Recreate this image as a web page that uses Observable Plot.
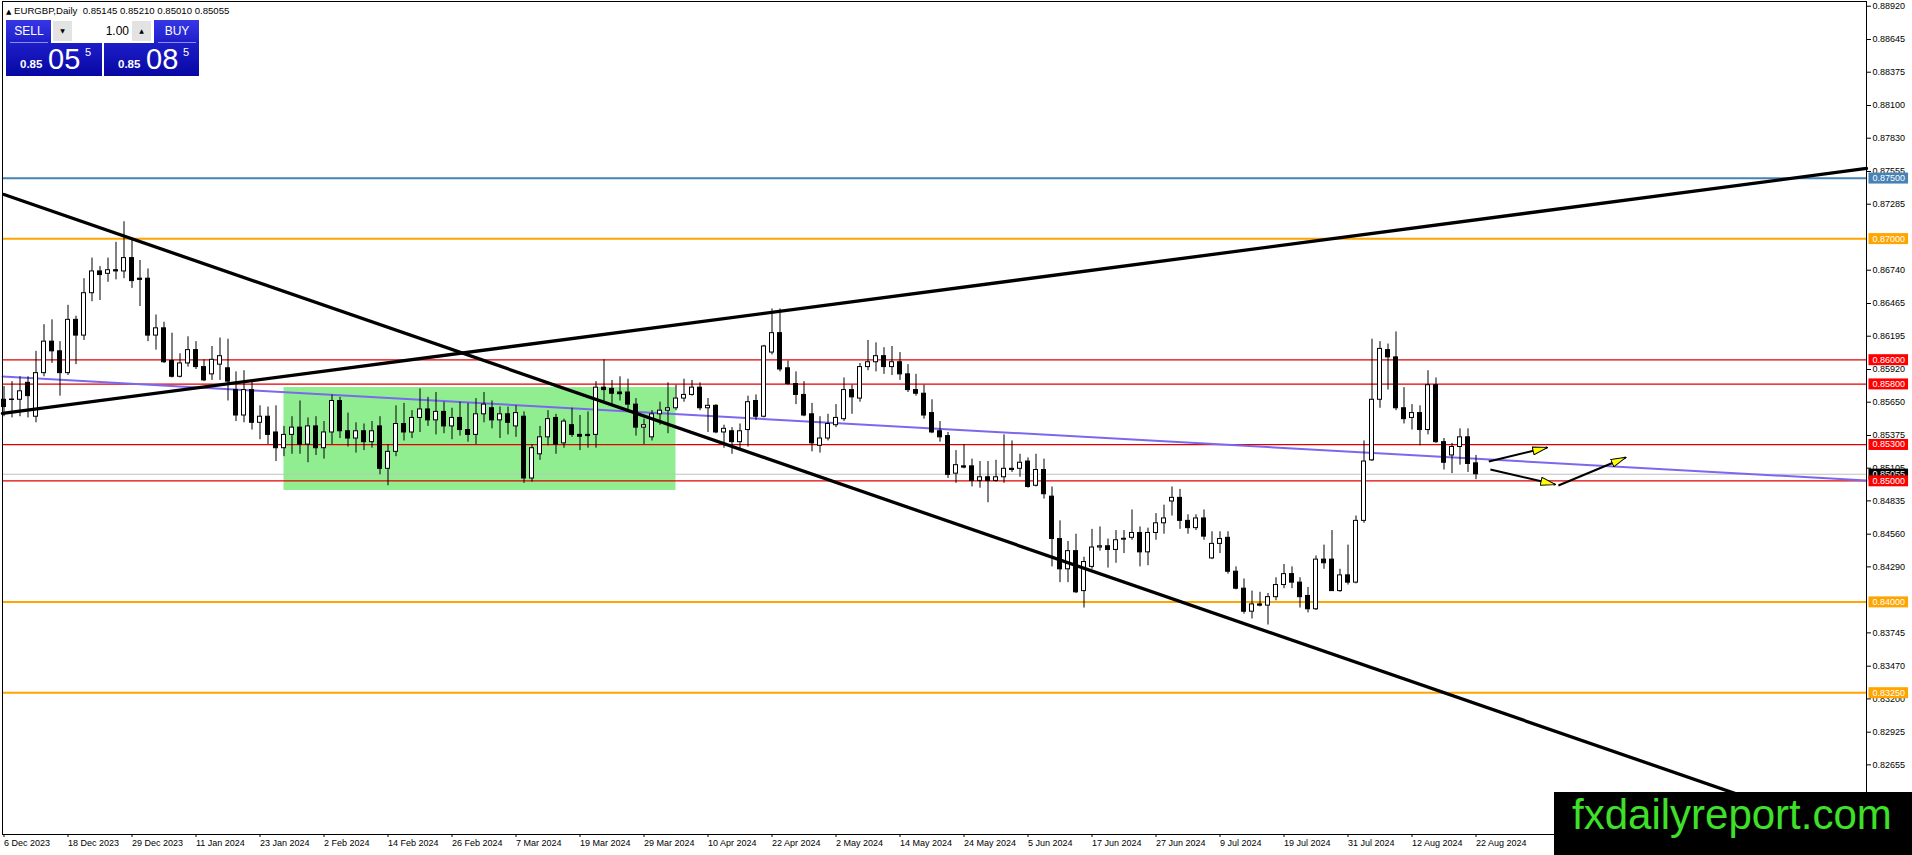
<!DOCTYPE html>
<html>
<head>
<meta charset="utf-8">
<title>EURGBP,Daily</title>
<script src="https://cdn.jsdelivr.net/npm/d3@7"></script>
<script src="https://cdn.jsdelivr.net/npm/@observablehq/plot@0.6"></script>
<style>
  body { margin: 0; background: white; font-family: "Liberation Sans", Arial, sans-serif; }
  #wrap { position: relative; width: 1912px; height: 855px; overflow: hidden; }
  #chart { position: absolute; left: 0; top: 0; }
  #header { position: absolute; left: 6px; top: 6px; font-size: 9.6px; line-height: 1; white-space: pre; color: black; }
  #header .tri { font-family: "DejaVu Sans", sans-serif; font-size: 7px; }
  .blue { position: absolute; background: linear-gradient(#3636e6, #1c1cc6 45%, #0707a3); }
  #sellBlock { left: 6px; top: 20px; width: 96px; height: 56px; }
  #buyBlock { left: 104px; top: 20px; width: 95px; height: 56px; }
  .cap { position: absolute; top: 20px; height: 22px; line-height: 23px; color: white; font-size: 12px; text-align: center; border-bottom: 1px solid #8c8cf2; }
  #sellCap { left: 10px; width: 38px; }
  #buyCap { left: 158px; width: 38px; }
  #lot { position: absolute; left: 51px; top: 19px; width: 103px; height: 24px; background: white; }
  .btn { position: absolute; top: 2px; width: 19px; height: 20px; background: #e3e3e3; font-family: "DejaVu Sans", sans-serif; font-size: 6px; line-height: 20px; text-align: center; }
  #lotDown { left: 2px; }
  #lotUp { left: 81px; }
  #lotValue { position: absolute; left: 22px; width: 56px; top: 2px; height: 20px; line-height: 21px; text-align: right; font-size: 12px; }
  .q { position: absolute; color: white; line-height: 1; white-space: nowrap; }
  .small { font-size: 11.5px; font-weight: bold; top: 59px; }
  .big { font-size: 29px; top: 45px; }
  .sup { font-size: 11px; top: 47px; }
  #brand { position: absolute; left: 1554px; top: 792px; width: 358px; height: 63px; box-sizing: border-box; padding: 2px 0 0 18px; background: black; color: #3ee02a; font-size: 42px; line-height: 1; }
</style>
</head>
<body>
<div id="wrap">
  <div id="chart"></div>
  <div id="header"><span class="tri">&#9650;</span> EURGBP,Daily  0.85145 0.85210 0.85010 0.85055</div>
  <div class="blue" id="sellBlock"></div>
  <div class="blue" id="buyBlock"></div>
  <div class="cap" id="sellCap">SELL</div>
  <div class="cap" id="buyCap">BUY</div>
  <div id="lot">
    <div class="btn" id="lotDown">&#9660;</div>
    <div id="lotValue">1.00</div>
    <div class="btn" id="lotUp">&#9650;</div>
  </div>
  <div class="q small" style="left:20px">0.85</div>
  <div class="q big" style="left:48px">05</div>
  <div class="q sup" style="left:85px">5</div>
  <div class="q small" style="left:118px">0.85</div>
  <div class="q big" style="left:146px">08</div>
  <div class="q sup" style="left:183px">5</div>
  <div id="brand">fxdailyreport.com</div>
</div>
<script>
// EURGBP daily bars, 6 Dec 2023 .. 22 Aug 2024, one entry per trading day
let open = [
  0.8567, 0.85672, 0.8567, 0.8581, 0.8553, 0.8589, 0.8615, 0.8607, 0.8589, 0.8633,
  0.8620, 0.8655, 0.8673, 0.8671, 0.8674, 0.8673, 0.8684, 0.8667, 0.8667, 0.8620,
  0.8626, 0.8599, 0.8586, 0.8597, 0.8608, 0.8594, 0.8588, 0.8596, 0.8593, 0.8575,
  0.8554, 0.8575, 0.8548, 0.8553, 0.8540, 0.8527, 0.8538, 0.8544, 0.8530, 0.8545,
  0.8527, 0.8540, 0.8566, 0.8541, 0.8535, 0.8541, 0.8532, 0.8545, 0.8510, 0.8524,
  0.8547, 0.8540, 0.8552, 0.8559, 0.8550, 0.8557, 0.8545, 0.8552, 0.8542, 0.8538,
  0.8555, 0.8560, 0.8550, 0.8555, 0.8545, 0.8553, 0.8502, 0.8522, 0.8536, 0.8552,
  0.8531, 0.8546, 0.8538, 0.8538, 0.8538, 0.8577, 0.8576, 0.8573, 0.8573, 0.8563,
  0.8544, 0.8536, 0.8555, 0.8558, 0.8560, 0.8568, 0.8571, 0.8577, 0.8560, 0.8562,
  0.8540, 0.8541, 0.8532, 0.8542, 0.8566, 0.8553, 0.8606, 0.8622, 0.8593, 0.8580,
  0.8571, 0.8555, 0.8529, 0.8535, 0.8546, 0.8551, 0.8575, 0.8568, 0.8594, 0.8598,
  0.8603, 0.8594, 0.8598, 0.8588, 0.8575, 0.8572, 0.8556, 0.8541, 0.8537, 0.8506,
  0.8512, 0.8512, 0.8500, 0.8503, 0.8500, 0.8503, 0.8510, 0.8510, 0.8516, 0.8496,
  0.8509, 0.8487, 0.8452, 0.8427, 0.8442, 0.8409, 0.8429, 0.8445, 0.8446, 0.8443,
  0.84522, 0.8453, 0.8457, 0.8441, 0.8457, 0.8465, 0.8483, 0.8486, 0.8467, 0.8461,
  0.8469, 0.8436, 0.8448, 0.8453, 0.8425, 0.8411, 0.8392, 0.8398, 0.8397, 0.8404,
  0.8414, 0.8423, 0.8416, 0.8405, 0.8394, 0.8435, 0.8435, 0.8409, 0.8422, 0.8416,
  0.8467, 0.8517, 0.8567, 0.8608, 0.8602, 0.8560, 0.8552, 0.8556, 0.8542, 0.8579,
  0.8532, 0.8521, 0.8528, 0.8536, 0.85145
];
let high = [
  0.8578, 0.8582, 0.8586, 0.8586, 0.8607, 0.8629, 0.8633, 0.8615, 0.8645, 0.8636,
  0.8667, 0.8684, 0.8677, 0.8684, 0.8697, 0.8714, 0.8699, 0.8682, 0.8675, 0.8637,
  0.8631, 0.8622, 0.8605, 0.8619, 0.8615, 0.8600, 0.8611, 0.8618, 0.8617, 0.8590,
  0.8591, 0.8582, 0.8562, 0.8561, 0.8562, 0.8545, 0.8553, 0.8566, 0.8552, 0.8553,
  0.8549, 0.8571, 0.8569, 0.8556, 0.8548, 0.8547, 0.8549, 0.8553, 0.8530, 0.8562,
  0.8564, 0.8558, 0.8576, 0.8569, 0.8573, 0.8565, 0.8560, 0.8565, 0.8564, 0.8568,
  0.8573, 0.8566, 0.8561, 0.8561, 0.8562, 0.8557, 0.8530, 0.8545, 0.8558, 0.8555,
  0.8551, 0.8560, 0.8554, 0.8557, 0.8582, 0.8600, 0.8583, 0.8586, 0.8584, 0.8568,
  0.8551, 0.8558, 0.8565, 0.8581, 0.8579, 0.8584, 0.8583, 0.8581, 0.8568, 0.8563,
  0.8546, 0.8544, 0.8547, 0.8570, 0.8571, 0.8612, 0.8642, 0.8642, 0.8599, 0.8590,
  0.8582, 0.8564, 0.8553, 0.8555, 0.8563, 0.8585, 0.8579, 0.8597, 0.8616, 0.8614,
  0.8610, 0.8611, 0.8606, 0.8596, 0.8588, 0.8579, 0.8567, 0.8549, 0.8540, 0.8525,
  0.8530, 0.8518, 0.8516, 0.8516, 0.8517, 0.8538, 0.8533, 0.8522, 0.8519, 0.8522,
  0.8518, 0.8495, 0.8467, 0.8450, 0.8456, 0.8437, 0.8460, 0.8462, 0.8452, 0.8459,
  0.8459, 0.8476, 0.8462, 0.8461, 0.8473, 0.8480, 0.8495, 0.8493, 0.8472, 0.8472,
  0.8476, 0.8458, 0.8458, 0.8458, 0.8429, 0.8419, 0.8409, 0.8408, 0.8407, 0.8420,
  0.8431, 0.8429, 0.8420, 0.8412, 0.8438, 0.8447, 0.8459, 0.8427, 0.8447, 0.8471,
  0.8533, 0.8617, 0.8615, 0.8613, 0.8623, 0.8577, 0.8563, 0.8562, 0.8591, 0.8585,
  0.8535, 0.8531, 0.8543, 0.8543, 0.85210
];
let low = [
  0.8553, 0.8552, 0.8553, 0.8552, 0.8548, 0.8586, 0.8597, 0.8570, 0.8587, 0.8596,
  0.8616, 0.8648, 0.8649, 0.8664, 0.8666, 0.8667, 0.8659, 0.8644, 0.8615, 0.8608,
  0.8597, 0.8585, 0.8585, 0.8594, 0.8592, 0.8582, 0.8583, 0.8583, 0.8566, 0.8549,
  0.8548, 0.8542, 0.8534, 0.8530, 0.8516, 0.8520, 0.8522, 0.8522, 0.8515, 0.8521,
  0.8518, 0.8530, 0.8535, 0.8528, 0.8523, 0.8525, 0.8527, 0.8505, 0.8496, 0.8520,
  0.8533, 0.8535, 0.8540, 0.8545, 0.8538, 0.8539, 0.8534, 0.8537, 0.8532, 0.8530,
  0.8548, 0.8543, 0.8535, 0.8538, 0.8536, 0.8498, 0.8499, 0.8517, 0.8529, 0.8522,
  0.8527, 0.8536, 0.8525, 0.8527, 0.8527, 0.8565, 0.8563, 0.8566, 0.8557, 0.8537,
  0.8530, 0.8533, 0.8546, 0.8539, 0.8558, 0.8565, 0.8570, 0.8558, 0.8540, 0.8539,
  0.8527, 0.8522, 0.8526, 0.8528, 0.8550, 0.8552, 0.8604, 0.8590, 0.8579, 0.8563,
  0.8553, 0.8524, 0.8523, 0.8533, 0.8544, 0.8549, 0.8555, 0.8565, 0.8591, 0.8590,
  0.8588, 0.8587, 0.8583, 0.8573, 0.8570, 0.8551, 0.8539, 0.8532, 0.8502, 0.8498,
  0.8510, 0.8495, 0.8494, 0.8482, 0.8499, 0.8498, 0.8507, 0.8503, 0.8494, 0.8495,
  0.8485, 0.8429, 0.8416, 0.8416, 0.8407, 0.8395, 0.8427, 0.8442, 0.8428, 0.8432,
  0.8440, 0.8451, 0.8429, 0.8430, 0.8451, 0.8456, 0.8471, 0.8460, 0.8456, 0.8459,
  0.8451, 0.8435, 0.8440, 0.8423, 0.8410, 0.8390, 0.8386, 0.8396, 0.8381, 0.8401,
  0.8411, 0.8411, 0.8395, 0.8391, 0.8393, 0.8427, 0.8409, 0.8408, 0.8414, 0.8415,
  0.8465, 0.8516, 0.8560, 0.8575, 0.8558, 0.8547, 0.8542, 0.8529, 0.8538, 0.8531,
  0.8509, 0.8506, 0.8513, 0.8507, 0.85010
];
let close = [
  0.8561, 0.85668, 0.8574, 0.8570, 0.8589, 0.8615, 0.8607, 0.8589, 0.8633, 0.8620,
  0.8655, 0.8673, 0.8670, 0.8674, 0.8673, 0.8684, 0.8665, 0.8666, 0.8620, 0.8626,
  0.8598, 0.8586, 0.8597, 0.8608, 0.8594, 0.8583, 0.8600, 0.8603, 0.8582, 0.8554,
  0.8575, 0.8548, 0.8553, 0.8538, 0.8527, 0.8538, 0.8544, 0.8530, 0.8545, 0.8527,
  0.8540, 0.8566, 0.8541, 0.8535, 0.8541, 0.8532, 0.8541, 0.8510, 0.8524, 0.8547,
  0.8540, 0.8552, 0.8559, 0.8550, 0.8557, 0.8545, 0.8552, 0.8542, 0.8538, 0.8555,
  0.8563, 0.8550, 0.8555, 0.8548, 0.8556, 0.8502, 0.8527, 0.8536, 0.8551, 0.8530,
  0.8549, 0.8538, 0.85365, 0.8537, 0.8577, 0.8575, 0.8572, 0.85716, 0.8563, 0.8544,
  0.8546, 0.8555, 0.8558, 0.8560, 0.8568, 0.8571, 0.8577, 0.8560, 0.8562, 0.8540,
  0.8543, 0.8532, 0.8541, 0.8565, 0.8553, 0.8611, 0.8622, 0.8592, 0.8580, 0.8571,
  0.8554, 0.8531, 0.8535, 0.8547, 0.8552, 0.8575, 0.8569, 0.8594, 0.8598, 0.8603,
  0.8594, 0.8598, 0.8588, 0.8575, 0.8572, 0.8554, 0.8540, 0.8536, 0.8505, 0.8513,
  0.8511, 0.8500, 0.8503, 0.8500, 0.8503, 0.8510, 0.8509, 0.8515, 0.8495, 0.8509,
  0.8489, 0.8452, 0.8427, 0.8442, 0.8408, 0.8433, 0.8445, 0.8446, 0.8443, 0.8451,
  0.84515, 0.8457, 0.8441, 0.8457, 0.8465, 0.8469, 0.8486, 0.8467, 0.8461, 0.8469,
  0.8454, 0.8448, 0.8452, 0.8425, 0.8411, 0.8392, 0.8398, 0.8397, 0.8404, 0.8414,
  0.8423, 0.8416, 0.8404, 0.8394, 0.8435, 0.8432, 0.8409, 0.8422, 0.8416, 0.8467,
  0.8516, 0.8567, 0.8609, 0.8602, 0.8560, 0.8551, 0.8556, 0.8542, 0.8579, 0.8532,
  0.8515, 0.8528, 0.8536, 0.8514, 0.85055
];

// date labels, one every 8 bars
let tickLabels = ["6 Dec 2023", "18 Dec 2023", "29 Dec 2023", "11 Jan 2024", "23 Jan 2024", "2 Feb 2024",
  "14 Feb 2024", "26 Feb 2024", "7 Mar 2024", "19 Mar 2024", "29 Mar 2024", "10 Apr 2024", "22 Apr 2024",
  "2 May 2024", "14 May 2024", "24 May 2024", "5 Jun 2024", "17 Jun 2024", "27 Jun 2024", "9 Jul 2024",
  "19 Jul 2024", "31 Jul 2024", "12 Aug 2024", "22 Aug 2024"];
let barsPerLabel = 8;

let yTicks = [0.88920, 0.88645, 0.88375, 0.88100, 0.87830, 0.87555, 0.87285, 0.86740, 0.86465, 0.86195,
  0.85920, 0.85650, 0.85375, 0.85105, 0.84835, 0.84560, 0.84290, 0.83745, 0.83470, 0.83200, 0.82925, 0.82655];

// horizontal levels
let blueLevels = [0.875];
let orangeLevels = [0.87, 0.84, 0.8325];
let redLevels = [0.86, 0.858, 0.853, 0.85];
let lastPrice = 0.85055;

// drawn objects as [bar, price]
let fallingLine = [[0, 0.87365], [225, 0.82222]];
let risingLine = [[-0.19, 0.85557], [232.81, 0.87580]];
let midLine = [[-0.19, 0.85862], [232.81, 0.85003]];
let zoneBars = [35, 84];
let zonePrices = [0.84921, 0.85771];
let arrowFrom = [[185.6, 0.85160], [185.8, 0.85094], [194.3, 0.84962]];
let arrowTo = [[192.9, 0.85276], [193.9, 0.84970], [202.7, 0.85193]];


let candles = open.map((o, i) => ({bar: i, open: o, high: high[i], low: low[i], close: close[i]}));
let tickBars = tickLabels.map((d, i) => i * barsPerLabel);
let arrows = arrowFrom.map((d, i) => ({x1: d[0], y1: d[1], x2: arrowTo[i][0], y2: arrowTo[i][1]}));
let zone = [{x1: zoneBars[0], x2: zoneBars[1], y1: zonePrices[0], y2: zonePrices[1]}];

let priceTags = [
  ...blueLevels.map(p => ({price: p, color: "#4682b4"})),
  ...orangeLevels.map(p => ({price: p, color: "#ffa500"})),
  {price: lastPrice, color: "black"},
  ...redLevels.map(p => ({price: p, color: "#ff0000"}))
];

const ns = "http://www.w3.org/2000/svg";

function addPriceBoxes(svg) {
  let texts = svg.querySelectorAll('g[aria-label="text"] text');
  texts.forEach((t, i) => {
    let b = t.getBBox();
    let r = document.createElementNS(ns, "rect");
    r.setAttribute("x", b.x - 4);
    r.setAttribute("y", b.y - 0.5);
    r.setAttribute("width", b.width + 7);
    r.setAttribute("height", b.height + 1);
    r.setAttribute("fill", priceTags[i].color);
    if (t.getAttribute("transform")) r.setAttribute("transform", t.getAttribute("transform"));
    t.parentNode.insertBefore(r, t);
  });
}

function addArrowHeads(svg) {
  let defs = document.createElementNS(ns, "defs");
  defs.innerHTML = '<marker id="yhead" viewBox="0 0 16 9" refX="15" refY="4.5" markerWidth="16" markerHeight="9" ' +
    'markerUnits="userSpaceOnUse" orient="auto"><path d="M0.5,0.5L15.5,4.5L0.5,8.5Z" fill="#ffff00" stroke="black" stroke-width="1"/></marker>';
  svg.prepend(defs);
  svg.querySelectorAll('g[aria-label="link"] path').forEach(p => p.setAttribute("marker-end", "url(#yhead)"));
}

let chart = Plot.plot({
  width: 1912,
  height: 855,
  marginTop: 1,
  marginRight: 46,
  marginBottom: 21,
  marginLeft: 2,
  x: {domain: [-0.1875, 232.8125]},
  y: {domain: [0.82080, 0.88959]},
  style: {fontFamily: '"Liberation Sans", Arial, sans-serif', fontSize: "9px", color: "black", background: "white"},
  marks: [
    Plot.rect(zone, {x1: "x1", x2: "x2", y1: "y1", y2: "y2", fill: "#90ee90"}),
    Plot.ruleY([lastPrice], {stroke: "#c0c0c0", strokeWidth: 1}),
    Plot.ruleY(redLevels, {stroke: "#e00000", strokeWidth: 1.2}),
    Plot.ruleY(orangeLevels, {stroke: "#ffa500", strokeWidth: 2}),
    Plot.ruleY(blueLevels, {stroke: "#4682b4", strokeWidth: 2}),
    Plot.line(midLine, {x: d => d[0], y: d => d[1], stroke: "#7b68ee", strokeWidth: 2}),
    Plot.ruleX(candles, {x: "bar", y1: "low", y2: "high", stroke: "black", strokeWidth: 1}),
    Plot.rect(candles, {
      x1: d => d.bar - 0.25,
      x2: d => d.bar + 0.25,
      y1: "open",
      y2: "close",
      fill: d => d.close >= d.open ? "white" : "black",
      stroke: "black",
      strokeWidth: 1
    }),
    Plot.line(fallingLine, {x: d => d[0], y: d => d[1], stroke: "black", strokeWidth: 3.3}),
    Plot.line(risingLine, {x: d => d[0], y: d => d[1], stroke: "black", strokeWidth: 3.3}),
    Plot.link(arrows, {x1: "x1", y1: "y1", x2: "x2", y2: "y2", stroke: "black", strokeWidth: 2}),
    Plot.frame({stroke: "black"}),
    Plot.axisX({ticks: tickBars, tickFormat: d => tickLabels[d / barsPerLabel], tickSize: 3, tickPadding: 2,
      textAnchor: "start", fontSize: 9, label: null}),
    Plot.axisY({anchor: "right", ticks: yTicks, tickFormat: d => d.toFixed(5), tickSize: 4, tickPadding: 2,
      fontSize: 9, label: null}),
    Plot.text(priceTags, {y: "price", text: d => d.price.toFixed(5), frameAnchor: "right", dx: 6,
      textAnchor: "start", fill: "white", fontSize: 9})
  ]
});

document.getElementById("chart").append(chart);
addPriceBoxes(chart);
addArrowHeads(chart);
</script>
</body>
</html>
